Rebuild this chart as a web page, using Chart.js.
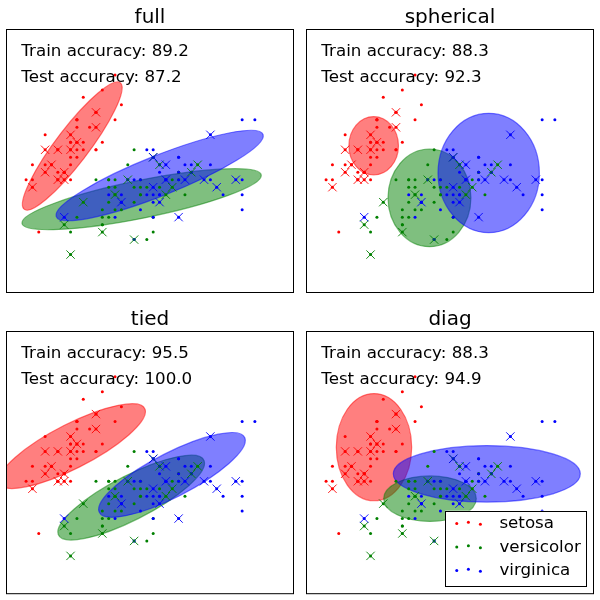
<!DOCTYPE html>
<html>
<head>
<meta charset="utf-8">
<script src="https://cdn.jsdelivr.net/npm/chart.js@4.4.1/dist/chart.umd.min.js"></script>
<style>
  body { margin: 0; background: #fff; }
  #grid { position: relative; width: 600px; height: 600px; }
  .panel { position: absolute; width: 300px; height: 300px; }
</style>
</head>
<body>
<div id="grid">
  <div class="panel" style="left:0;top:0"><canvas id="chart0" width="300" height="300"></canvas></div>
  <div class="panel" style="left:300px;top:0"><canvas id="chart1" width="300" height="300"></canvas></div>
  <div class="panel" style="left:0;top:300px"><canvas id="chart2" width="300" height="300"></canvas></div>
  <div class="panel" style="left:300px;top:300px"><canvas id="chart3" width="300" height="300"></canvas></div>
</div>
<script>
// iris: sepal length (x) / sepal width (y), one array per class
const setosaLength = [5.1,4.9,4.7,4.6,5.0,5.4,4.6,5.0,4.4,4.9,5.4,4.8,4.8,4.3,5.8,5.7,5.4,5.1,5.7,5.1,5.4,5.1,4.6,5.1,4.8,5.0,5.0,5.2,5.2,4.7,4.8,5.4,5.2,5.5,4.9,5.0,5.5,4.9,4.4,5.1,5.0,4.5,4.4,5.0,5.1,4.8,5.1,4.6,5.3,5.0];
const setosaWidth = [3.5,3.0,3.2,3.1,3.6,3.9,3.4,3.4,2.9,3.1,3.7,3.4,3.0,3.0,4.0,4.4,3.9,3.5,3.8,3.8,3.4,3.7,3.6,3.3,3.4,3.0,3.4,3.5,3.4,3.2,3.1,3.4,4.1,4.2,3.1,3.2,3.5,3.1,3.0,3.4,3.5,2.3,3.2,3.5,3.8,3.0,3.8,3.2,3.7,3.3];
const versicolorLength = [7.0,6.4,6.9,5.5,6.5,5.7,6.3,4.9,6.6,5.2,5.0,5.9,6.0,6.1,5.6,6.7,5.6,5.8,6.2,5.6,5.9,6.1,6.3,6.1,6.4,6.6,6.8,6.7,6.0,5.7,5.5,5.5,5.8,6.0,5.4,6.0,6.7,6.3,5.6,5.5,5.5,6.1,5.8,5.0,5.6,5.7,5.7,6.2,5.1,5.7];
const versicolorWidth = [3.2,3.2,3.1,2.3,2.8,2.8,3.3,2.4,2.9,2.7,2.0,3.0,2.2,2.9,2.9,3.1,3.0,2.7,2.2,2.5,3.2,2.8,2.5,2.8,2.9,3.0,2.8,3.0,2.9,2.6,2.4,2.4,2.7,2.7,3.0,3.4,3.1,2.3,3.0,2.5,2.6,3.0,2.6,2.3,2.7,3.0,2.9,2.9,2.5,2.8];
const virginicaLength = [6.3,5.8,7.1,6.3,6.5,7.6,4.9,7.3,6.7,7.2,6.5,6.4,6.8,5.7,5.8,6.4,6.5,7.7,7.7,6.0,6.9,5.6,7.7,6.3,6.7,7.2,6.2,6.1,6.4,7.2,7.4,7.9,6.4,6.3,6.1,7.7,6.3,6.4,6.0,6.9,6.7,6.9,5.8,6.8,6.7,6.7,6.3,6.5,6.2,5.9];
const virginicaWidth = [3.3,2.7,3.0,2.9,3.0,3.0,2.5,2.9,2.5,3.6,3.2,2.7,3.0,2.5,2.8,3.2,3.0,3.8,2.6,2.2,3.2,2.8,2.8,2.7,3.3,3.2,2.8,3.0,2.8,3.0,2.8,3.8,2.8,2.8,2.6,3.0,3.4,3.1,3.0,3.1,3.1,3.1,2.7,3.2,3.3,3.0,2.5,3.0,3.4,3.0];

const classNames = ["setosa", "versicolor", "virginica"];
const classColors = ["255, 0, 0", "0, 128, 0", "0, 0, 255"];
const sepalLength = [setosaLength, versicolorLength, virginicaLength];
const sepalWidth = [setosaWidth, versicolorWidth, virginicaWidth];
const testPerClass = 13; // first 13 samples of each class are the test fold

const covarianceTypes = ["full", "spherical", "tied", "diag"];
const trainAccuracy = [89.2, 88.3, 95.5, 88.3];
const testAccuracy = [87.2, 92.3, 100.0, 94.9];

// fitted components per panel [panel][class]: mean, ellipse width/height (data units), angle (deg)
const ellipseMeanX = [[5.027, 6.118, 6.402], [5.049, 5.927, 6.859], [5.024, 5.954, 6.596], [5.054, 5.935, 6.829]];
const ellipseMeanY = [[3.450, 2.740, 3.056], [3.453, 2.758, 3.090], [3.471, 2.781, 3.085], [3.457, 2.767, 3.099]];
const ellipseWidth = [[2.269, 3.820, 3.434], [0.78, 1.305, 1.595], [2.499, 2.499, 2.499], [1.186, 1.457, 2.942]];
const ellipseHeight = [[0.495, 0.508, 0.545], [0.78, 1.305, 1.595], [0.606, 0.606, 0.606], [1.437, 0.61, 0.757]];
const ellipseAngle = [[47.8, 9.7, 18.5], [0, 0, 0], [23.3, 23.3, 23.3], [0, 0, 0]];

const FONT = "DejaVu Sans";

const ellipsePlugin = {
  id: "gmmEllipses",
  beforeDatasetsDraw(chart, args, opts) {
    const { ctx, chartArea, scales } = chart;
    const p = opts.panel;
    ctx.save();
    ctx.beginPath();
    ctx.rect(chartArea.left, chartArea.top, chartArea.width, chartArea.height);
    ctx.clip();
    for (let n = 0; n < classNames.length; n++) {
      const mx = ellipseMeanX[p][n];
      const my = ellipseMeanY[p][n];
      const cx = scales.x.getPixelForValue(mx);
      const cy = scales.y.getPixelForValue(my);
      const kx = scales.x.getPixelForValue(mx + 1) - cx;
      const ky = scales.y.getPixelForValue(my + 1) - cy;
      ctx.save();
      ctx.translate(cx, cy);
      ctx.scale(kx, ky); // now in data units, y up
      ctx.beginPath();
      ctx.ellipse(0, 0, ellipseWidth[p][n] / 2, ellipseHeight[p][n] / 2,
        ellipseAngle[p][n] * Math.PI / 180, 0, 2 * Math.PI);
      ctx.restore();
      ctx.fillStyle = `rgba(${classColors[n]}, 0.5)`;
      ctx.fill();
      ctx.strokeStyle = `rgba(${classColors[n]}, 0.5)`;
      ctx.lineWidth = 1.2;
      ctx.stroke();
    }
    ctx.restore();
  }
};

const annotatePlugin = {
  id: "panelAnnotate",
  afterDraw(chart, args, opts) {
    const { ctx, chartArea } = chart;
    const { left, top, width, height, right, bottom } = chartArea;
    ctx.save();
    // axes frame
    ctx.strokeStyle = "#000";
    ctx.lineWidth = 1;
    ctx.strokeRect(left - 0.5, top - 0.5, width + 1, height + 1);

    ctx.fillStyle = "#000";
    ctx.font = `16.7px "${FONT}"`;
    ctx.textBaseline = "alphabetic";
    ctx.fillText("Train accuracy: " + trainAccuracy[opts.panel].toFixed(1), left + 0.05 * width, bottom - 0.9 * height);
    ctx.fillText("Test accuracy: " + testAccuracy[opts.panel].toFixed(1), left + 0.05 * width, bottom - 0.8 * height);

    if (opts.legend) {
      let textW = 0;
      classNames.forEach((name) => { textW = Math.max(textW, ctx.measureText(name).width); });
      const boxW = 54 + textW + 6;
      const boxH = 75;
      const bx = right - 6.5 - boxW;
      const by = bottom - 7.5 - boxH;
      ctx.fillStyle = "#fff";
      ctx.fillRect(bx, by, boxW, boxH);
      ctx.strokeStyle = "#000";
      ctx.lineWidth = 1;
      ctx.strokeRect(Math.round(bx) + 0.5, Math.round(by) + 0.5, Math.round(boxW), Math.round(boxH));
      const dotX = [11.7, 23.3, 35.3];
      const dotDy = [0, -1.2, 0.8];
      classNames.forEach((name, n) => {
        const rowY = by + 12.8 + n * 23.5;
        ctx.fillStyle = `rgb(${classColors[n]})`;
        dotX.forEach((dx, k) => {
          ctx.beginPath();
          ctx.arc(bx + dx, rowY + dotDy[k], 1.5, 0, 2 * Math.PI);
          ctx.fill();
        });
        ctx.fillStyle = "#000";
        ctx.fillText(name, bx + 54.3, by + 17.6 + n * 23.5);
      });
    }
    ctx.restore();
  }
};

function buildDatasets() {
  const sets = [];
  for (let n = 0; n < classNames.length; n++) {
    sets.push({
      label: classNames[n],
      data: sepalLength[n].map((x, i) => ({ x: x, y: sepalWidth[n][i] })),
      pointRadius: 1.5,
      pointBorderWidth: 0,
      pointBackgroundColor: `rgb(${classColors[n]})`
    });
  }
  for (let n = 0; n < classNames.length; n++) {
    sets.push({
      label: classNames[n] + " (test)",
      data: sepalLength[n].slice(0, testPerClass).map((x, i) => ({ x: x, y: sepalWidth[n][i] })),
      pointStyle: "crossRot",
      pointRadius: 5.9,
      pointBorderWidth: 0.9,
      pointBorderColor: `rgb(${classColors[n]})`,
      pointBackgroundColor: "rgba(0,0,0,0)"
    });
  }
  // Chart.js paints dataset 0 last, so flip to get dots first, crosses on top
  return sets.reverse();
}

covarianceTypes.forEach((type, p) => {
  const bottomRow = p >= 2;
  new Chart(document.getElementById("chart" + p), {
    type: "scatter",
    data: { datasets: buildDatasets() },
    options: {
      responsive: false,
      animation: false,
      events: [],
      layout: { padding: { left: 7, right: 7, top: bottomRow ? 2 : 0, bottom: bottomRow ? 6 : 8 } },
      scales: {
        x: { type: "linear", min: 4, max: 8.5, display: false },
        y: { type: "linear", min: 1.5, max: 5, display: false }
      },
      plugins: {
        legend: { display: false },
        tooltip: { enabled: false },
        title: {
          display: true,
          text: type,
          color: "#000",
          font: { family: FONT, size: 20, weight: "normal", lineHeight: 1.2 },
          padding: { top: 5.5, bottom: 0.5 }
        },
        gmmEllipses: { panel: p },
        panelAnnotate: { panel: p, legend: type === "diag" }
      }
    },
    plugins: [ellipsePlugin, annotatePlugin]
  });
});
</script>
</body>
</html>
